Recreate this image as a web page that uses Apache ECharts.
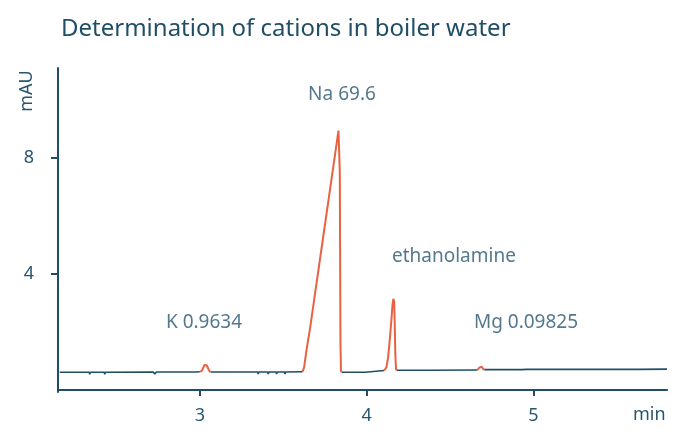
<!DOCTYPE html>
<html>
<head>
<meta charset="utf-8">
<script src="https://cdn.jsdelivr.net/npm/echarts@6/dist/echarts.min.js"></script>
<style>
  html, body { margin: 0; padding: 0; background: #fff; }
  #chart { width: 700px; height: 437px; }
</style>
</head>
<body>
<div id="chart"></div>
<script>
// axis ticks
var xTicks = [3, 4, 5];
var yTicks = [4, 8];

// baseline pieces between the peaks (min, mAU)
var base1 = [[2.16,0.61],[2.172,0.61],[2.176,0.55],[2.18,0.61],[2.187,0.61],[2.19,0.55],[2.194,0.61],[2.202,0.61],[2.206,0.55],[2.21,0.61],[2.217,0.61],[2.22,0.55],[2.224,0.61],[2.337,0.61],[2.34,0.54],[2.344,0.61],[2.427,0.61],[2.43,0.54],[2.434,0.61],[2.72,0.62],[2.73,0.55],[2.74,0.62],[2.76,0.62],[2.77,0.57],[2.78,0.62],[2.81,0.62],[2.82,0.57],[2.83,0.62],[2.86,0.62],[2.87,0.57],[2.88,0.62],[2.91,0.62],[2.92,0.57],[2.93,0.62],[2.96,0.62],[2.97,0.57],[2.98,0.62],[3.00,0.63]];
var base2 = [[3.065,0.62],[3.08,0.62],[3.09,0.57],[3.10,0.62],[3.13,0.62],[3.14,0.57],[3.15,0.62],[3.18,0.62],[3.19,0.57],[3.20,0.62],[3.23,0.62],[3.24,0.57],[3.25,0.62],[3.347,0.62],[3.35,0.55],[3.354,0.62],[3.407,0.62],[3.41,0.55],[3.414,0.62],[3.457,0.62],[3.46,0.55],[3.464,0.62],[3.507,0.62],[3.51,0.55],[3.514,0.62],[3.616,0.63]];
var base3 = [[3.85,0.61],[3.99,0.61],[4.0,0.66],[4.105,0.67]];
var base4 = [[4.18,0.68],[4.38,0.68],[4.385,0.62],[4.39,0.68],[4.665,0.69]];
var base5 = [[4.705,0.70],[4.73,0.70],[4.74,0.65],[4.75,0.70],[4.79,0.70],[4.80,0.65],[4.81,0.70],[4.85,0.70],[4.86,0.65],[4.87,0.70],[4.91,0.70],[4.92,0.65],[4.93,0.70],[4.96,0.71],[4.97,0.76],[4.98,0.71],[5.02,0.71],[5.03,0.66],[5.04,0.71],[5.08,0.71],[5.09,0.66],[5.10,0.71],[5.14,0.71],[5.15,0.66],[5.16,0.71],[5.22,0.71],[5.23,0.66],[5.24,0.71],[5.40,0.71],[5.41,0.66],[5.42,0.71],[5.48,0.71],[5.49,0.66],[5.50,0.71],[5.55,0.71],[5.56,0.66],[5.57,0.71],[5.61,0.71],[5.62,0.66],[5.63,0.71],[5.80,0.72]];

// peaks
var peakK = [[3.00,0.63],[3.012,0.66],[3.02,0.76],[3.028,0.86],[3.035,0.89],[3.042,0.85],[3.05,0.74],[3.058,0.65],[3.065,0.62]];
var peakNa = [[3.616,0.63],[3.625,0.78],[3.64,1.4],[3.66,2.1],[3.68,2.9],[3.70,3.7],[3.72,4.5],[3.74,5.3],[3.76,6.1],[3.78,6.9],[3.80,7.7],[3.82,8.5],[3.831,8.94],[3.836,8.9],[3.839,7.5],[3.841,4.5],[3.843,1.6],[3.846,0.66],[3.85,0.61]];
var peakEth = [[4.105,0.67],[4.118,0.78],[4.128,1.1],[4.138,1.7],[4.148,2.4],[4.155,2.95],[4.16,3.14],[4.165,3.05],[4.168,2.3],[4.172,1.2],[4.176,0.72],[4.18,0.68]];
var peakMg = [[4.665,0.69],[4.675,0.77],[4.683,0.83],[4.69,0.80],[4.697,0.73],[4.705,0.70]];

// peak annotations
var peakNames = ["K 0.9634", "Na 69.6", "ethanolamine", "Mg 0.09825"];
var labelX = [3.025, 3.852, 4.523, 4.955];
var labelY = [2.32, 10.17, 4.59, 2.31];

var ink = "#1f4e66";
var textColor = "#285670";
var orange = "#ea6141";
var font = "Noto Sans";

function joinPieces(pieces) {
  var out = [];
  pieces.forEach(function(p, i) {
    if (i > 0) out.push("-");
    out = out.concat(p);
  });
  return out;
}

var labelData = peakNames.map(function(n, i) {
  return { name: n, value: [labelX[i], labelY[i]] };
});

var chart = echarts.init(document.getElementById("chart"));
chart.setOption({
  animation: false,
  title: {
    text: "Determination of cations in boiler water",
    left: 56,
    top: 12,
    textStyle: { color: ink, fontSize: 24, fontWeight: "normal", fontFamily: font }
  },
  grid: { left: 58, right: 33, top: 68, bottom: 45 },
  xAxis: {
    type: "value",
    min: 2.15,
    max: 5.8,
    name: "min",
    nameLocation: "end",
    nameGap: -34,
    nameTextStyle: { color: textColor, fontSize: 18, fontFamily: font, align: "left", verticalAlign: "top", padding: [16, 0, 0, 0] },
    axisLine: { lineStyle: { color: ink, width: 2 } },
    axisTick: { show: true, length: 6, customValues: xTicks, lineStyle: { color: ink, width: 2 } },
    axisLabel: { customValues: xTicks, color: textColor, fontSize: 18, fontFamily: font, margin: 15 },
    splitLine: { show: false }
  },
  yAxis: {
    type: "value",
    min: -0.07,
    max: 11.1,
    axisLine: { show: true, lineStyle: { color: ink, width: 2 } },
    axisTick: { show: true, length: 7, customValues: yTicks, lineStyle: { color: ink, width: 2 } },
    axisLabel: { customValues: yTicks, color: textColor, fontSize: 18, fontFamily: font, margin: 24 },
    splitLine: { show: false }
  },
  graphic: [{
    type: "text",
    x: 27,
    y: 91,
    rotation: Math.PI / 2,
    style: { text: "mAU", fill: textColor, fontSize: 18, fontFamily: font, align: "center", verticalAlign: "middle" }
  }],
  series: [
    {
      name: "baseline",
      type: "line",
      data: joinPieces([base1, base2, base3, base4, base5]),
      showSymbol: false,
      lineStyle: { color: ink, width: 1.6 },
      z: 2
    },
    {
      name: "peaks",
      type: "line",
      data: joinPieces([peakK, peakNa, peakEth, peakMg]),
      showSymbol: false,
      lineStyle: { color: orange, width: 2 },
      z: 3
    },
    {
      name: "labels",
      type: "scatter",
      data: labelData,
      symbolSize: 0,
      silent: true,
      label: {
        show: true,
        position: "inside",
        formatter: function(p) { return p.name; },
        color: textColor,
        fontSize: 19,
        fontFamily: font
      }
    }
  ]
});
</script>
</body>
</html>
